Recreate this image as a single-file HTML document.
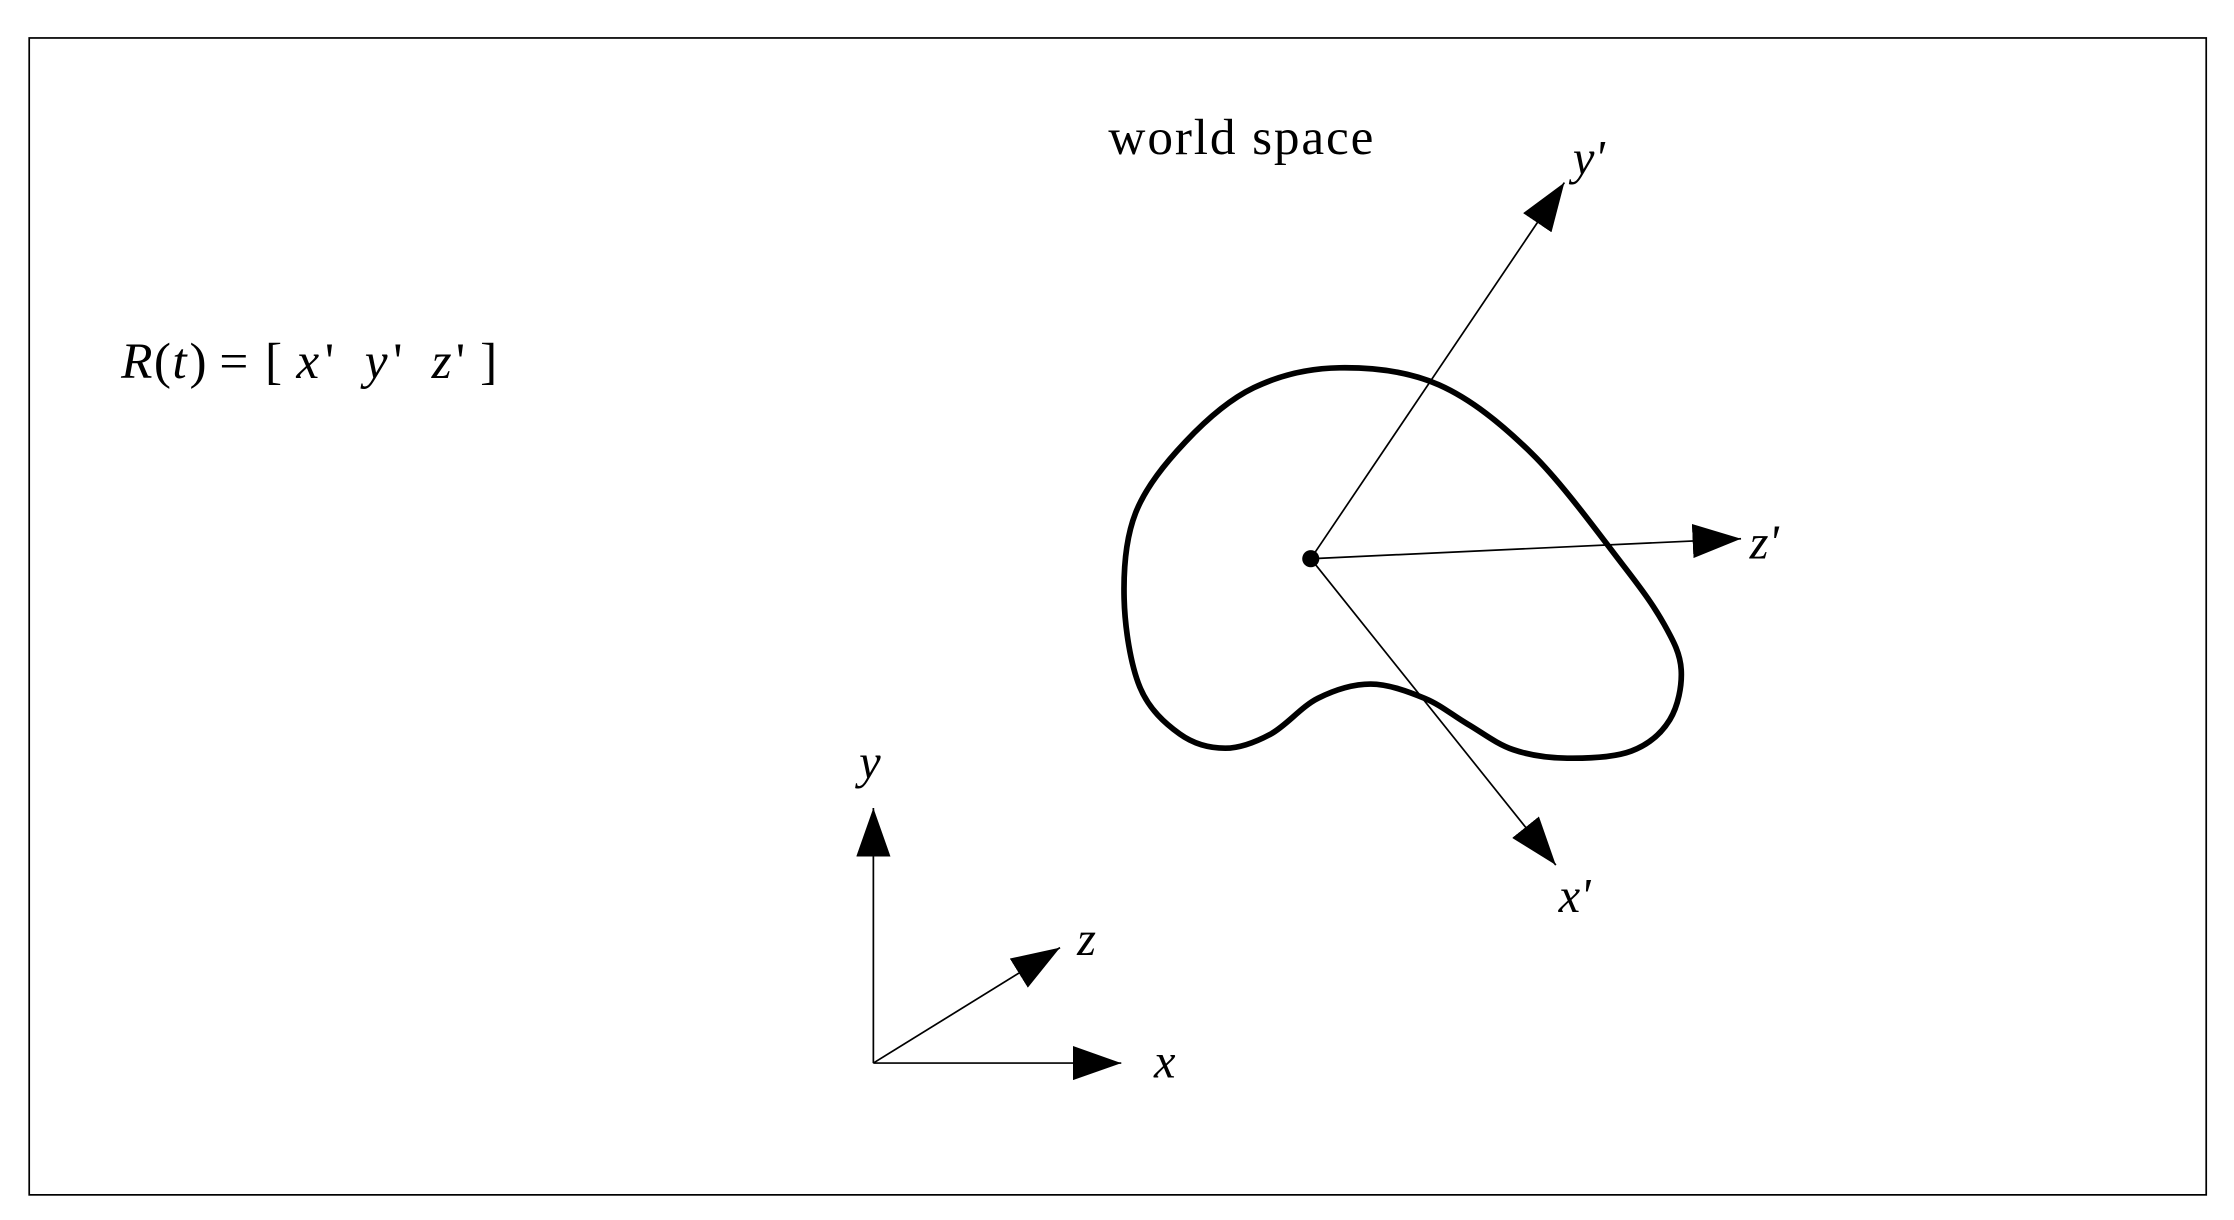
<!DOCTYPE html>
<html><head><meta charset="utf-8"><style>
html,body{margin:0;padding:0;background:#fff;}
svg{display:block;}
text{font-family:"Liberation Serif",serif;fill:#000;}
</style></head><body>
<svg width="2234" height="1220" viewBox="0 0 1568 856">
<defs>
<marker id="ah" viewBox="0 0 34 24" refX="34" refY="12" markerWidth="34" markerHeight="24" markerUnits="userSpaceOnUse" orient="auto">
<path d="M0,0 L34,12 L0,24 Z" fill="#000"/>
</marker>
</defs>
<rect x="20.5" y="26.5" width="1528" height="812" fill="none" stroke="#000" stroke-width="1.2"/>
<text x="778" y="108" font-size="36" textLength="186">world space</text>
<g font-size="36">
<text x="85" y="265" font-style="italic">R</text>
<text x="108" y="265">(</text>
<text x="121" y="265" font-style="italic">t</text>
<text x="133" y="265">) =</text>
<text x="186" y="265">[</text>
<text x="208" y="265" font-style="italic">x</text>
<text x="228" y="265">'</text>
<text x="256" y="265" font-style="italic">y</text>
<text x="276" y="265">'</text>
<text x="303" y="265" font-style="italic">z</text>
<text x="320" y="265">'</text>
<text x="337" y="265">]</text>
</g>

<path id="blob" fill="none" stroke="#000" stroke-width="4"/>

<g stroke="#000" stroke-width="1.2">
<line x1="920" y1="392" x2="1098" y2="128" marker-end="url(#ah)"/>
<line x1="920" y1="392" x2="1222" y2="378" marker-end="url(#ah)"/>
<line x1="920" y1="392" x2="1092" y2="607" marker-end="url(#ah)"/>
<line x1="613" y1="746" x2="613" y2="567" marker-end="url(#ah)"/>
<line x1="613" y1="746" x2="787" y2="746" marker-end="url(#ah)"/>
<line x1="613" y1="746" x2="744" y2="665" marker-end="url(#ah)"/>
</g>
<circle cx="920" cy="392" r="6" fill="#000"/>

<g font-size="34" font-style="italic">
<text x="1104" y="122">y'</text>
<text x="1228" y="392">z'</text>
<text x="1094" y="640">x'</text>
<text x="603" y="546">y</text>
<text x="810" y="756">x</text>
<text x="756" y="670">z</text>
</g>
</svg>
<script>
const pts=[[940,258],[1010,270],[1075,318],[1138,395],[1168,438],[1180,470],[1172,505],[1145,527],[1100,532],[1062,526],[1030,508],[1000,490],[962,480],[925,490],[892,515],[860,525],[828,515],[800,482],[789,420],[797,360],[832,310],[880,272]];
let n=pts.length,d='M'+pts[0].join(',');
for(let i=0;i<n;i++){const p0=pts[(i-1+n)%n],p1=pts[i],p2=pts[(i+1)%n],p3=pts[(i+2)%n];
d+=' C'+(p1[0]+(p2[0]-p0[0])/6)+','+(p1[1]+(p2[1]-p0[1])/6)+' '+(p2[0]-(p3[0]-p1[0])/6)+','+(p2[1]-(p3[1]-p1[1])/6)+' '+p2[0]+','+p2[1];}
document.getElementById('blob').setAttribute('d',d+'Z');
</script>
</body></html>
